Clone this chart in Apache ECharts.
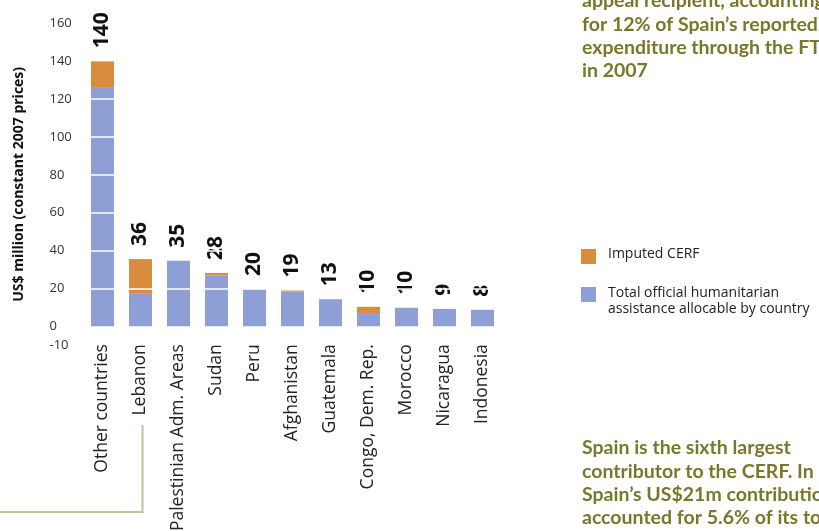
<!DOCTYPE html>
<html>
<head>
<meta charset="utf-8">
<script src="https://cdn.jsdelivr.net/npm/echarts@6/dist/echarts.min.js"></script>
<style>
html,body{margin:0;padding:0;background:#fff;}
#chart{width:819px;height:531px;}
</style>
</head>
<body>
<div id="chart"></div>
<script>
// ---- Data ----
var categories = ['Other countries', 'Lebanon', 'Palestinian Adm. Areas', 'Sudan', 'Peru', 'Afghanistan', 'Guatemala', 'Congo, Dem. Rep.', 'Morocco', 'Nicaragua', 'Indonesia'];
var totalOfficial = [126, 17.5, 34.6, 27, 19.3, 18.4, 14.3, 7, 9.8, 9.2, 8.7];
var imputedCERF = [14, 18, 0, 1.2, 0.4, 0.5, 0, 3.3, 0, 0, 0];
var totalLabels = ['140', '36', '35', '28', '20', '19', '13', '10', '10', '9', '8'];
var yTicks = [-10, 0, 20, 40, 60, 80, 100, 120, 140, 160];
var gridLines = [20, 40, 60, 80, 100, 120];
var seriesNames = ['Imputed CERF', 'Total official humanitarian\nassistance allocable by country'];
var yAxisTitle = 'US$ million (constant 2007 prices)';
var topNote = 'appeal recipient, accounting\nfor 12% of Spain\u2019s reported\nexpenditure through the FTS\nin 2007';
var bottomNote = 'Spain is the sixth largest\ncontributor to the CERF. In 2007,\nSpain\u2019s US$21m contribution\naccounted for 5.6% of its total';

var ORANGE = '#d98c3e';
var BLUE = '#8d9fd4';
var OLIVE = '#7b772a';

var chart = echarts.init(document.getElementById('chart'), null, {renderer: 'canvas'});
var option = {
  animation: false,
  backgroundColor: '#ffffff',
  grid: {left: 83.5, right: 317.5, top: 23.5, bottom: 185.8, containLabel: false, outerBoundsMode: 'none'},
  xAxis: {
    type: 'category',
    data: categories,
    axisLine: {show: false},
    axisTick: {show: false},
    axisLabel: {
      rotate: 90, interval: 0, margin: -1,
      fontFamily: 'Open Sans', fontSize: 17.5, color: '#222'
    }
  },
  yAxis: {
    type: 'value',
    min: -10, max: 160, interval: 10,
    name: yAxisTitle,
    nameLocation: 'middle',
    nameGap: 57,
    nameTextStyle: {fontFamily: 'Open Sans', fontWeight: 'bold', fontSize: 14, color: '#111'},
    axisLine: {show: false},
    axisTick: {show: false},
    splitLine: {show: false},
    axisLabel: {
      margin: 34, align: 'left',
      fontFamily: 'Open Sans', fontSize: 13, color: '#333',
      formatter: function (v) { return yTicks.indexOf(v) >= 0 ? String(v) : ''; }
    }
  },
  series: [
    {
      name: seriesNames[1], type: 'bar', stack: 's', barWidth: 23,
      data: totalOfficial, itemStyle: {color: BLUE}
    },
    {
      name: seriesNames[0], type: 'bar', stack: 's', barWidth: 23,
      data: imputedCERF, itemStyle: {color: ORANGE},
      label: {
        show: true, position: 'top', distance: 13, rotate: 90,
        align: 'left', verticalAlign: 'middle',
        fontFamily: 'Noto Sans', fontWeight: 'bold', fontSize: 21, color: '#111',
        formatter: function (p) { return totalLabels[p.dataIndex]; }
      }
    },
    {
      type: 'line', data: [], z: 10, silent: true,
      markLine: {
        silent: true, symbol: 'none', label: {show: false},
        lineStyle: {color: '#ffffff', width: 1.5, type: 'solid'},
        data: gridLines.map(function (g) { return {yAxis: g}; })
      }
    }
  ],
  graphic: [
    {type: 'polyline', shape: {points: [[0, 512], [142.5, 512], [142.5, 425]]},
     style: {stroke: '#c4c199', lineWidth: 2, fill: null}},
    {type: 'rect', shape: {x: 581, y: 249, width: 15, height: 15}, style: {fill: ORANGE}},
    {type: 'text', left: 608, top: 247,
     style: {text: seriesNames[0], fontFamily: 'Open Sans', fontSize: 14, fill: '#222'}},
    {type: 'rect', shape: {x: 581, y: 287, width: 15, height: 15}, style: {fill: BLUE}},
    {type: 'text', left: 608, top: 285,
     style: {text: seriesNames[1], fontFamily: 'Open Sans', fontSize: 14, lineHeight: 16, fill: '#222'}},
    {type: 'text', x: 582, y: -10.5,
     style: {text: topNote, fontFamily: 'Lato', fontWeight: 'bold', fontSize: 19.5, lineHeight: 23.3, fill: OLIVE, verticalAlign: 'top'}},
    {type: 'text', x: 582, y: 436.5,
     style: {text: bottomNote, fontFamily: 'Lato', fontWeight: 'bold', fontSize: 19.5, lineHeight: 23.3, fill: OLIVE, verticalAlign: 'top'}}
  ]
};
chart.setOption(option);
</script>
</body>
</html>
